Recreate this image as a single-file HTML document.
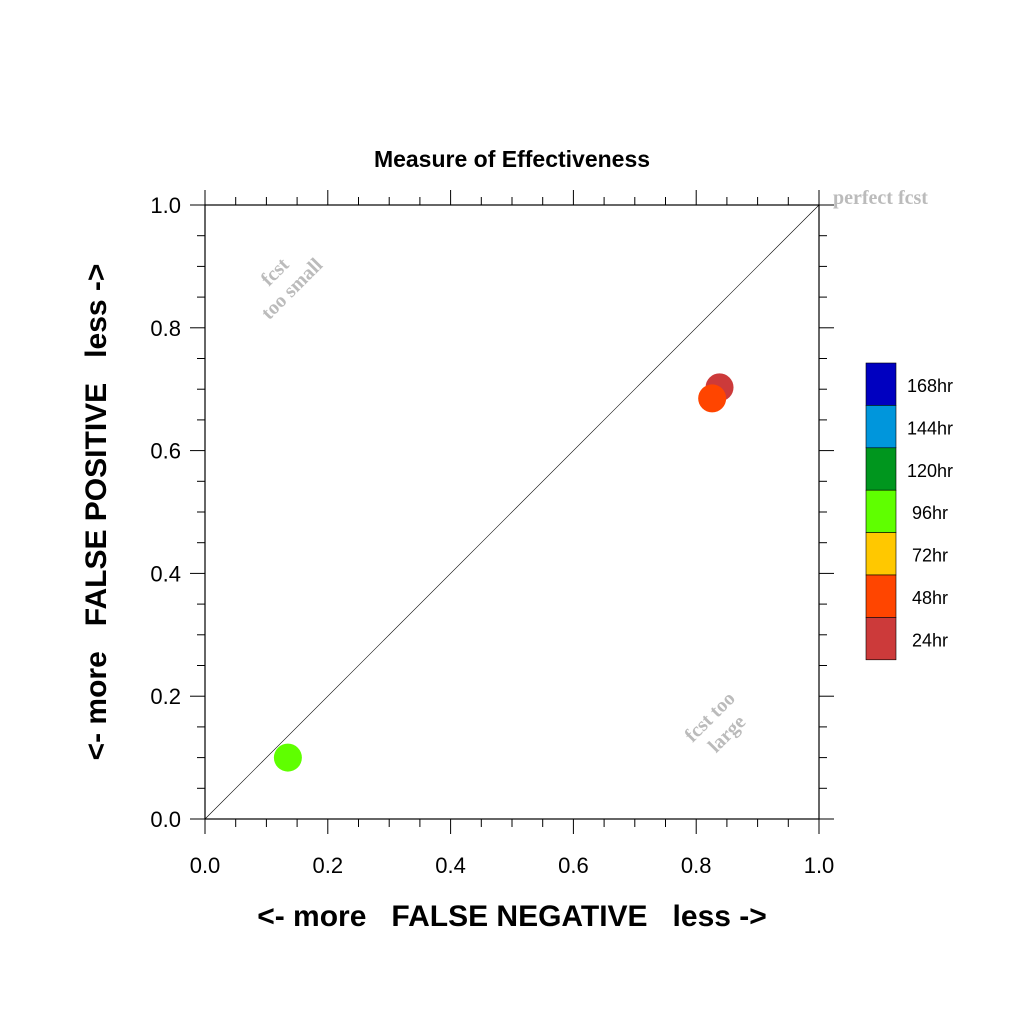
<!DOCTYPE html>
<html><head><meta charset="utf-8"><style>body{margin:0;background:#fff}svg{display:block;font-family:"Liberation Sans",sans-serif}</style></head><body>
<svg id="c" width="1024" height="1024"></svg>
<script>
const xs=[0.838,0.826,0.135];
const ys=[0.703,0.685,0.100];
const cols=["#cc3a3a","#ff4500","#5fff00"];
const legendLabels=["168hr","144hr","120hr","96hr","72hr","48hr","24hr"];
const legendCols=["#0000c0","#0096dc","#00961e","#5fff00","#ffc800","#ff4500","#cc3a3a"];
const ticks=[0,0.2,0.4,0.6,0.8,1.0];
const tickLabels=["0.0","0.2","0.4","0.6","0.8","1.0"];
const L=205,R=819,T=205,B=819;
const sx=v=>L+v*(R-L), sy=v=>B-v*(B-T);
const s=document.getElementById('c');const N='http://www.w3.org/2000/svg';
function mk(t,a,txt){const e=document.createElementNS(N,t);for(const k in a)e.setAttribute(k,a[k]);if(txt!=null)e.textContent=txt;s.appendChild(e);return e;}
let e;
e=mk('rect',{x:L,y:T,width:R-L,height:B-T,fill:'none',stroke:'#000','stroke-width':1.2});


e=mk('line',{x1:sx(0),y1:sy(0),x2:sx(1),y2:sy(1),stroke:'#000','stroke-width':0.6});


for(let i=0;i<=20;i++){const v=i/20;const maj=i%4==0;const len=maj?15:8;
 e=mk('line',{x1:sx(v),y1:B,x2:sx(v),y2:B+len,stroke:'#000','stroke-width':1});
 
 
 e=mk('line',{x1:sx(v),y1:T,x2:sx(v),y2:T-len,stroke:'#000','stroke-width':1});
 
 
 e=mk('line',{x1:L,y1:sy(v),x2:L-len,y2:sy(v),stroke:'#000','stroke-width':1});
 
 
 e=mk('line',{x1:R,y1:sy(v),x2:R+len,y2:sy(v),stroke:'#000','stroke-width':1});
 
 }
ticks.forEach((v,i)=>{
 e=mk('text',{x:sx(v),y:B+54,'font-size':22,'text-anchor':'middle'},tickLabels[i]);
 
 
 e=mk('text',{x:L-24,y:sy(v)+8,'font-size':22,'text-anchor':'end'},tickLabels[i]);
 
 });
xs.forEach((x,i)=>{e=mk('circle',{cx:sx(x),cy:sy(ys[i]),r:14,fill:cols[i]});
 
 });
legendLabels.forEach((l,i)=>{const y=363+i*42.4;
 e=mk('rect',{x:866,y:y,width:30,height:42.4,fill:legendCols[i],stroke:'#000','stroke-width':0.6});
 
 
 e=mk('text',{x:930,y:y+29,'font-size':18,'text-anchor':'middle'},l);
 
 });
</script>
<svg width="1024" height="1024" style="position:absolute;left:0;top:0;font-family:'Liberation Sans',sans-serif">
<text x="512" y="167" font-size="23" font-weight="bold" text-anchor="middle">Measure of Effectiveness</text>
<text x="512" y="926" font-size="30" font-weight="bold" text-anchor="middle" xml:space="preserve">&lt;- more   FALSE NEGATIVE   less -&gt;</text>
<text transform="translate(106,512) rotate(-90)" font-size="30" font-weight="bold" text-anchor="middle" xml:space="preserve">&lt;- more   FALSE POSITIVE   less -&gt;</text>
<text x="833" y="204" font-family="Liberation Serif" font-weight="bold" font-size="20" fill="#bbb">perfect fcst</text>
<g transform="translate(285,282) rotate(-45)" font-family="Liberation Serif" font-weight="bold" font-size="20" fill="#bbb" text-anchor="middle"><text x="0" y="-8">fcst</text><text x="0" y="16">too small</text></g>
<g transform="translate(720,727) rotate(-45)" font-family="Liberation Serif" font-weight="bold" font-size="20" fill="#bbb" text-anchor="middle"><text x="0" y="-8">fcst too</text><text x="0" y="16">large</text></g>
</svg>
</body></html>
